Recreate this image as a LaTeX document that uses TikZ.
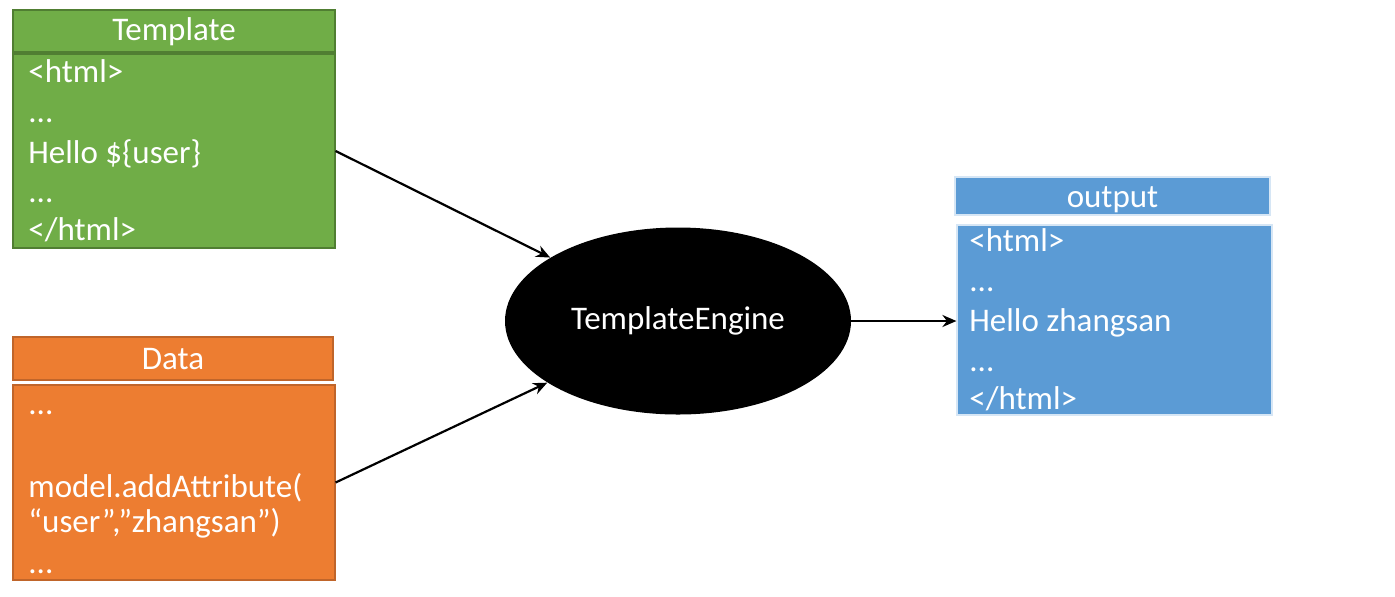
\documentclass[tikz,border=0pt]{standalone}
\usepackage{fontspec}
\setmainfont{Carlito}
\usetikzlibrary{shapes.geometric,arrows.meta}
\definecolor{tgreen}{HTML}{70AD47}
\definecolor{tgreenb}{HTML}{507E32}
\definecolor{torange}{HTML}{ED7D31}
\definecolor{torangeb}{HTML}{C0652A}
\definecolor{tblue}{HTML}{5B9BD5}
\definecolor{tblueb}{HTML}{D6E6F5}
\begin{document}
\begin{tikzpicture}[x=0.5pt,y=-0.5pt,
  font=\fontsize{16.5pt}{19pt}\selectfont,
  boxg/.style={draw=tgreenb,fill=tgreen,line width=0.6pt,inner sep=0pt},
  boxo/.style={draw=torangeb,fill=torange,line width=0.6pt,inner sep=0pt},
  boxb/.style={draw=tblueb,fill=tblue,line width=0.6pt,inner sep=0pt},
  txt/.style={text=white,inner sep=0pt,anchor=base west},
  htxt/.style={text=white,inner sep=0pt,anchor=base},
  conn/.style={line width=1.1pt,-{Stealth[length=7pt,width=6pt]}}]
\useasboundingbox (0,0) rectangle (1395,596);
% Template
\node[boxg,minimum width=161pt,minimum height=21pt] (th) at (174,31) {};
\node[boxg,minimum width=161pt,minimum height=97pt] (tb) at (174,151) {};
\node[htxt] (tht) at (174,40) {Template};
\node[txt] (t1) at (28,82) {<html>};
\node[txt] (t2) at (28,122) {...};
\node[txt] (t3) at (28,163) {Hello \$\{user\}};
\node[txt] (t4) at (28,202) {...};
\node[txt] (t5) at (28,240) {</html>};
% Data
\node[boxo,minimum width=160pt,minimum height=21.5pt] (dh) at (173,358.5) {};
\node[boxo,minimum width=161pt,minimum height=97.5pt] (db) at (174,482.5) {};
\node[htxt] (dht) at (173,369) {Data};
\node[txt] (d1) at (28,414) {...};
\node[txt] (d2) at (28,497) {model.addAttribute(};
\node[txt] (d3) at (28,532) {“user”,”zhangsan”)};
\node[txt] (d4) at (28,573) {...};
% Output
\node[boxb,minimum width=157.5pt,minimum height=19pt] (oh) at (1112.5,196) {};
\node[boxb,minimum width=157.5pt,minimum height=95pt] (ob) at (1114.5,320) {};
\node[htxt] (oht) at (1112.5,207) {output};
\node[txt] (o1) at (969,251) {<html>};
\node[txt] (o2) at (969,291) {...};
\node[txt] (o3) at (969,331) {Hello zhangsan};
\node[txt] (o4) at (969,371) {...};
\node[txt] (o5) at (969,409) {</html>};
% Engine
\node[ellipse,fill=black,text=white,minimum width=173pt,minimum height=93.5pt,inner sep=0pt] (eng) at (678,321) {TemplateEngine};
% connectors
\draw[conn] (tb.east) -- (eng);
\draw[conn] (db.east) -- (eng);
\draw[conn] (eng.east) -- (eng.east -| ob.west);
\end{tikzpicture}
\end{document}
